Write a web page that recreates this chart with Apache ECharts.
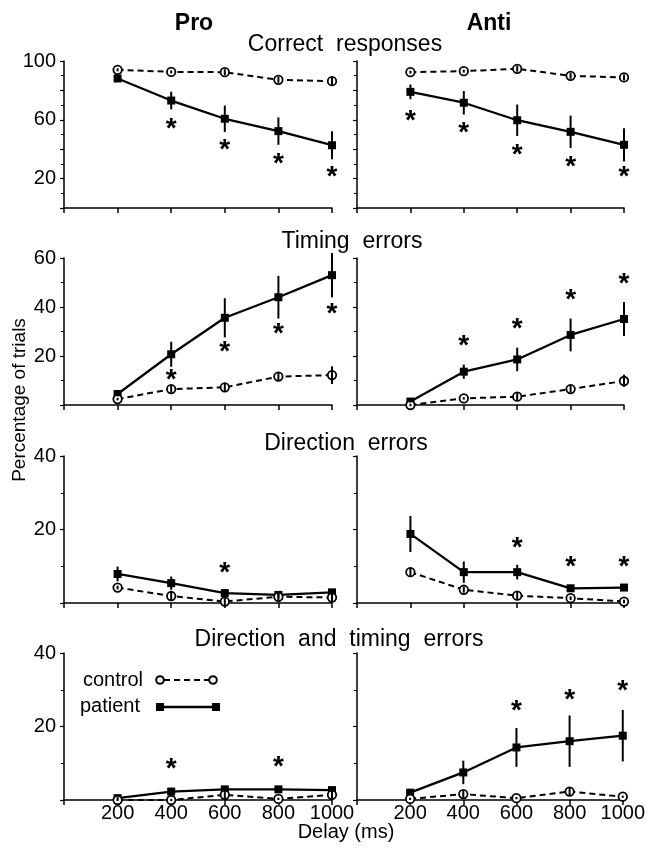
<!DOCTYPE html>
<html>
<head>
<meta charset="utf-8">
<script src="https://cdn.jsdelivr.net/npm/echarts@6/dist/echarts.min.js"></script>
<style>html,body{margin:0;padding:0;background:#fff;}#chart{width:648px;height:852px;}</style>
</head>
<body>
<div id="chart"></div>
<script>
// ---- data ----
const delays = [200, 400, 600, 800, 1000];
const xTickValues = [200, 400, 600, 800, 1000];

// Correct responses
const proCorrectControl = [94, 92.6, 92.4, 87.2, 86.3];
const proCorrectControlErr = [1, 1, 2, 2, 3];
const proCorrectPatient = [88.1, 73.1, 60.7, 52.3, 42.7];
const proCorrectPatientErr = [1, 6, 9, 9.3, 9.5];
const proCorrectStars = [null, 56.8, 42, 33, 24];

const antiCorrectControl = [92.4, 93.1, 94.7, 89.9, 88.8];
const antiCorrectControlErr = [1, 1, 2, 2, 2];
const antiCorrectPatient = [79, 71.6, 59.7, 51.8, 43];
const antiCorrectPatientErr = [5, 8, 10.7, 11, 11.3];
const antiCorrectStars = [62, 54, 38.6, 31, 24];

// Timing errors
const proTimingControl = [2.4, 6.5, 7.2, 11.6, 12.2];
const proTimingControlErr = [0.5, 1.5, 1.5, 1.5, 3.6];
const proTimingPatient = [4.5, 20.7, 35.6, 44, 53];
const proTimingPatientErr = [1, 5.1, 8, 8.7, 9];
const proTimingStars = [null, 12, 23.4, 30.6, 38.8];

const antiTimingControl = [0, 2.7, 3.4, 6.5, 9.8];
const antiTimingControlErr = [0.5, 0.5, 1.5, 1.5, 2.5];
const antiTimingPatient = [1.4, 13.6, 18.6, 28.6, 35.1];
const antiTimingPatientErr = [0.5, 2.9, 4.8, 6.7, 6.9];
const antiTimingStars = [null, 25.8, 32.7, 44.5, 51];

// Direction errors
const proDirControl = [4.2, 1.9, 0.4, 1.7, 1.5];
const proDirControlErr = [0.5, 1.2, 1, 1, 1];
const proDirPatient = [7.9, 5.4, 2.7, 2.2, 2.9];
const proDirPatientErr = [2, 1.8, 0.5, 1, 0.5];
const proDirStars = [null, null, 9.3, null, null];

const antiDirControl = [8.4, 3.6, 2, 1.3, 0.4];
const antiDirControlErr = [1.2, 0.8, 1, 0.5, 0.5];
const antiDirPatient = [18.8, 8.4, 8.4, 4, 4.2];
const antiDirPatientErr = [4.9, 2.9, 2, 0.5, 0.5];
const antiDirStars = [null, null, 16.2, 11, 10.9];

// Direction and timing errors
const proDirTimControl = [0, 0, 1.4, 0.3, 1.4];
const proDirTimControlErr = [0.3, 0.3, 1, 0.3, 1];
const proDirTimPatient = [0.5, 2.3, 2.9, 2.9, 2.7];
const proDirTimPatientErr = [0.3, 0.3, 0.5, 0.5, 0.5];
const proDirTimStars = [null, 9.5, null, 10, null];

const antiDirTimControl = [0.3, 1.6, 0.5, 2.3, 0.9];
const antiDirTimControlErr = [0.3, 1, 0.3, 1, 0.3];
const antiDirTimPatient = [2, 7.5, 14.3, 16, 17.5];
const antiDirTimPatientErr = [0.5, 3.2, 5.3, 7, 7];
const antiDirTimStars = [null, null, 25.4, 28.3, 30.7];

const rowTitles = ['Correct  responses', 'Timing  errors', 'Direction  errors', 'Direction  and  timing  errors'];
const colTitles = ['Pro', 'Anti'];
const rowMax = [100, 60, 40, 40];
const rowLabelValues = [[20, 60, 100], [20, 40, 60], [20, 40], [20, 40]];
const yAxisTitle = 'Percentage of trials';
const xAxisTitle = 'Delay (ms)';
const legendNames = ['control', 'patient'];

const panels = [
  [proCorrectControl, proCorrectControlErr, proCorrectPatient, proCorrectPatientErr, proCorrectStars],
  [antiCorrectControl, antiCorrectControlErr, antiCorrectPatient, antiCorrectPatientErr, antiCorrectStars],
  [proTimingControl, proTimingControlErr, proTimingPatient, proTimingPatientErr, proTimingStars],
  [antiTimingControl, antiTimingControlErr, antiTimingPatient, antiTimingPatientErr, antiTimingStars],
  [proDirControl, proDirControlErr, proDirPatient, proDirPatientErr, proDirStars],
  [antiDirControl, antiDirControlErr, antiDirPatient, antiDirPatientErr, antiDirStars],
  [proDirTimControl, proDirTimControlErr, proDirTimPatient, proDirTimPatientErr, proDirTimStars],
  [antiDirTimControl, antiDirTimControlErr, antiDirTimPatient, antiDirTimPatientErr, antiDirTimStars]
];

// ---- layout ----
const FONT = '"Liberation Sans", Arial, sans-serif';
const colLeft = [64, 357];
const colWidth = [268, 267];
const rowTop = [61, 258, 456, 653];
const rowHeight = 147;

const grids = [], xAxes = [], yAxes = [], series = [];

function errSeries(i, vals, errs) {
  return {
    type: 'custom', xAxisIndex: i, yAxisIndex: i, z: 6, silent: true,
    data: delays.map((d, k) => [d, vals[k] - errs[k], vals[k] + errs[k]]),
    renderItem: function (params, api) {
      const p1 = api.coord([api.value(0), api.value(1)]);
      const p2 = api.coord([api.value(0), api.value(2)]);
      return { type: 'line', shape: { x1: p1[0], y1: p1[1], x2: p2[0], y2: p2[1] },
        style: { stroke: '#000', lineWidth: 2 } };
    }
  };
}

panels.forEach((p, i) => {
  const row = Math.floor(i / 2), col = i % 2;
  grids.push({ left: colLeft[col], top: rowTop[row], width: colWidth[col], height: rowHeight });
  xAxes.push({
    type: 'value', gridIndex: i, min: 0, max: 1000, interval: 200,
    axisLine: { show: true, onZero: false, lineStyle: { color: '#000', width: 1.5 } },
    axisTick: { show: true, length: 5, lineStyle: { color: '#000', width: 1.5 } },
    splitLine: { show: false },
    axisLabel: {
      show: row === 3, color: '#000', fontSize: 20, fontFamily: FONT, margin: 3,
      formatter: v => (xTickValues.indexOf(v) >= 0 ? String(v) : '')
    }
  });
  yAxes.push({
    type: 'value', gridIndex: i, min: 0, max: rowMax[row], interval: 20,
    axisLine: { show: true, lineStyle: { color: '#000', width: 1.5 } },
    axisTick: { show: true, length: 4, lineStyle: { color: '#000', width: 1.2 } },
    minorTick: { show: true, splitNumber: 2, length: 3, lineStyle: { color: '#000', width: 1 } },
    splitLine: { show: false },
    axisLabel: {
      show: col === 0, color: '#000', fontSize: 20, fontFamily: FONT, margin: 8,
      formatter: v => (rowLabelValues[row].indexOf(v) >= 0 ? String(v) : '')
    }
  });
  const [cVals, cErr, pVals, pErr, stars] = p;
  series.push({
    type: 'line', name: 'patient', xAxisIndex: i, yAxisIndex: i, z: 3,
    data: delays.map((d, k) => [d, pVals[k]]),
    symbol: 'rect', symbolSize: 8, showAllSymbol: true,
    lineStyle: { color: '#000', width: 2.3 },
    itemStyle: { color: '#000' }
  });
  series.push({
    type: 'line', name: 'control', xAxisIndex: i, yAxisIndex: i, z: 4,
    data: delays.map((d, k) => [d, cVals[k]]),
    symbol: 'circle', symbolSize: 8.5, showAllSymbol: true,
    lineStyle: { color: '#000', width: 2, type: [6, 4] },
    itemStyle: { color: '#fff', borderColor: '#000', borderWidth: 1.8 }
  });
  series.push(errSeries(i, pVals, pErr));
  series.push(errSeries(i, cVals, cErr));
  series.push({
    type: 'custom', xAxisIndex: i, yAxisIndex: i, z: 7, silent: true,
    data: delays.map((d, k) => (stars[k] == null ? null : [d, stars[k]])).filter(Boolean),
    renderItem: function (params, api) {
      const pt = api.coord([api.value(0), api.value(1)]);
      return { type: 'text', x: pt[0], y: pt[1] + 4.5,
        style: { text: '*', font: 'bold 28px ' + FONT, align: 'center', verticalAlign: 'middle', fill: '#000' } };
    }
  });
});

const graphics = [];
// column titles
[[194, colTitles[0]], [489, colTitles[1]]].forEach(([x, t]) => {
  graphics.push({ type: 'text', x: x, y: 24, style: { text: t, font: 'bold 23px ' + FONT, fill: '#000', align: 'center', verticalAlign: 'middle' } });
});
// row titles
const rowTitleX = [345, 352, 346, 339];
const rowTitleY = [45, 242, 444, 640];
rowTitles.forEach((t, r) => {
  graphics.push({ type: 'text', x: rowTitleX[r], y: rowTitleY[r], style: { text: t, font: '23px ' + FONT, fill: '#000', align: 'center', verticalAlign: 'middle' } });
});
// axis titles
graphics.push({ type: 'text', x: 20, y: 400, rotation: Math.PI / 2, style: { text: yAxisTitle, font: '19px ' + FONT, fill: '#000', align: 'center', verticalAlign: 'middle' } });
graphics.push({ type: 'text', x: 346, y: 832, style: { text: xAxisTitle, font: '20px ' + FONT, fill: '#000', align: 'center', verticalAlign: 'middle' } });
// legend
graphics.push({ type: 'text', x: 143, y: 680, style: { text: legendNames[0], font: '20px ' + FONT, fill: '#000', align: 'right', verticalAlign: 'middle' } });
graphics.push({ type: 'line', shape: { x1: 164, y1: 680, x2: 209, y2: 680 }, style: { stroke: '#000', lineWidth: 2, lineDash: [6, 4] } });
graphics.push({ type: 'circle', shape: { cx: 160, cy: 680, r: 3.8 }, style: { fill: '#fff', stroke: '#000', lineWidth: 2 } });
graphics.push({ type: 'circle', shape: { cx: 213, cy: 680, r: 3.8 }, style: { fill: '#fff', stroke: '#000', lineWidth: 2 } });
graphics.push({ type: 'text', x: 140, y: 706, style: { text: legendNames[1], font: '20px ' + FONT, fill: '#000', align: 'right', verticalAlign: 'middle' } });
graphics.push({ type: 'line', shape: { x1: 160, y1: 707, x2: 216, y2: 707 }, style: { stroke: '#000', lineWidth: 2.3 } });
graphics.push({ type: 'rect', shape: { x: 156, y: 703, width: 8, height: 8 }, style: { fill: '#000' } });
graphics.push({ type: 'rect', shape: { x: 212, y: 703, width: 8, height: 8 }, style: { fill: '#000' } });

const chart = echarts.init(document.getElementById('chart'), null, { renderer: 'canvas' });
chart.setOption({
  animation: false,
  backgroundColor: '#fff',
  grid: grids, xAxis: xAxes, yAxis: yAxes, series: series,
  graphic: graphics
});
</script>
</body>
</html>
